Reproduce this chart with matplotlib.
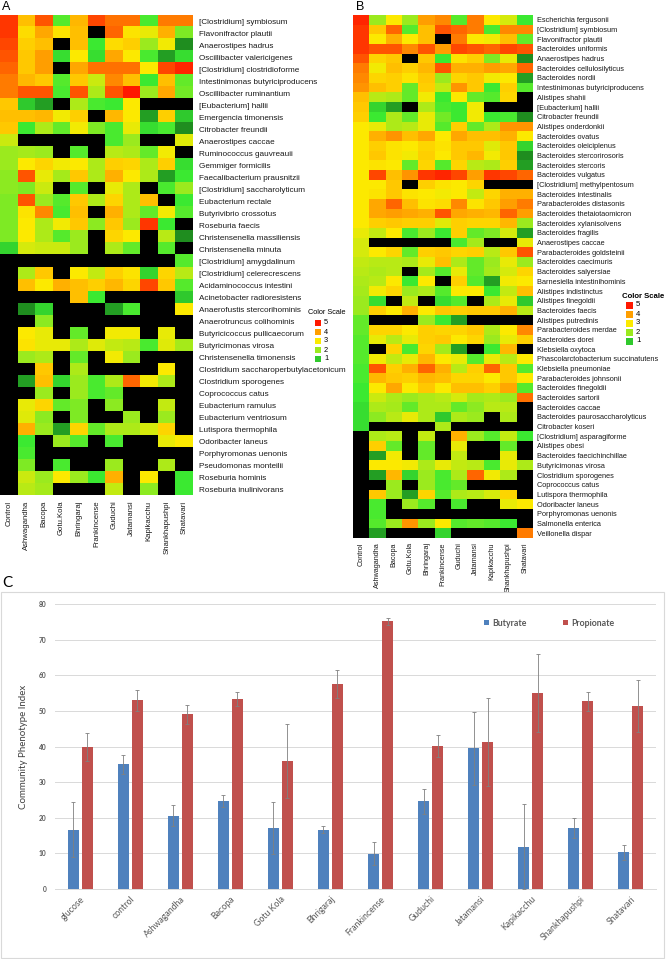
import numpy as np
import matplotlib
matplotlib.use('Agg')
import matplotlib.pyplot as plt
from matplotlib.colors import LinearSegmentedColormap, Normalize
from matplotlib.patches import Rectangle

# ---------------- data ----------------
heat_cols = ['Control', 'Ashwagandha', 'Bacopa', 'Gotu.Kola', 'Bhringaraj', 'Frankincense',
             'Guduchi', 'Jatamansi', 'Kapikacchu', 'Shankhapushpi', 'Shatavari']

rows_A = ['[Clostridium] symbiosum', 'Flavonifractor plautii', 'Anaerostipes hadrus',
          'Oscillibacter valericigenes', '[Clostridium] clostridioforme',
          'Intestinimonas butyriciproducens', 'Oscillibacter ruminantium', '[Eubacterium] hallii',
          'Emergencia timonensis', 'Citrobacter freundii', 'Anaerostipes caccae',
          'Ruminococcus gauvreauii', 'Gemmiger formicilis', 'Faecalibacterium prausnitzii',
          '[Clostridium] saccharolyticum', 'Eubacterium rectale', 'Butyrivibrio crossotus',
          'Roseburia faecis', 'Christensenella massiliensis', 'Christensenella minuta',
          '[Clostridium] amygdalinum', '[Clostridium] celerecrescens', 'Acidaminococcus intestini',
          'Acinetobacter radioresistens', 'Anaerofustis stercorihominis', 'Anaerotruncus colihominis',
          'Butyricicoccus pullicaecorum', 'Butyricimonas virosa', 'Christensenella timonensis',
          'Clostridium saccharoperbutylacetonicum', 'Clostridium sporogenes', 'Coprococcus catus',
          'Eubacterium ramulus', 'Eubacterium ventriosum', 'Lutispora thermophila',
          'Odoribacter laneus', 'Porphyromonas uenonis', 'Pseudomonas monteilii',
          'Roseburia hominis', 'Roseburia inulinivorans']

# 0 = not detected (black)
vals_A = [
    [4.8, 3.6, 4.6, 1.5, 3.7, 4.7, 4.4, 4.4, 1.4, 4.3, 4.3],
    [4.8, 3.2, 3.9, 3.1, 3.6, 0, 4.5, 3.1, 2.8, 3.8, 1.8],
    [4.7, 3.4, 3.6, 0, 3.6, 1.3, 3.2, 3.4, 2.0, 2.9, 0.6],
    [4.6, 3.5, 4.0, 1.2, 3.0, 1.2, 3.9, 3.0, 1.4, 0.7, 1.2],
    [4.5, 3.5, 4.0, 0, 3.9, 4.4, 4.4, 4.4, 3.0, 4.7, 4.9],
    [4.3, 3.7, 3.5, 1.5, 3.5, 2.5, 4.2, 3.6, 1.3, 3.6, 1.6],
    [4.3, 4.6, 4.6, 1.4, 4.6, 2.2, 4.6, 5.0, 2.0, 3.9, 1.7],
    [3.5, 1.0, 0.7, 0, 2.2, 1.4, 1.3, 3.0, 0, 0, 0],
    [3.6, 3.6, 3.7, 2.9, 3.4, 0, 3.7, 3.0, 0.7, 3.4, 1.0],
    [3.5, 1.3, 2.2, 1.6, 2.9, 1.8, 1.4, 2.8, 1.2, 1.4, 0.6],
    [2.5, 0, 0, 0, 0, 0, 1.4, 2.0, 0, 0, 2.7],
    [2.0, 2.1, 2.0, 0, 1.5, 0, 2.3, 2.2, 1.6, 2.9, 0],
    [2.0, 3.0, 3.3, 2.9, 3.0, 2.2, 3.4, 3.3, 2.2, 3.4, 1.2],
    [1.9, 4.6, 2.8, 2.1, 3.5, 2.2, 3.8, 3.0, 2.2, 0.7, 1.3],
    [1.9, 1.8, 2.5, 0, 1.5, 0, 2.8, 2.2, 0, 1.4, 2.0],
    [1.8, 4.6, 2.0, 1.5, 3.5, 2.2, 3.3, 2.2, 3.6, 0, 1.3],
    [1.8, 3.1, 4.2, 1.4, 3.6, 0, 3.8, 2.2, 1.6, 2.9, 1.5],
    [1.8, 3.0, 2.2, 2.9, 3.5, 1.9, 3.5, 2.0, 4.8, 1.3, 0],
    [1.8, 3.0, 2.2, 1.5, 2.0, 0, 3.3, 3.0, 0, 2.3, 0.6],
    [1.1, 2.6, 2.5, 2.5, 2.0, 0, 2.2, 1.6, 0, 1.5, 0],
    [0, 0, 0, 0, 0, 0, 0, 0, 0, 0, 1.5],
    [0, 2.2, 3.5, 0, 3.0, 2.4, 3.4, 3.1, 1.1, 3.3, 2.3],
    [0, 3.6, 3.0, 3.8, 3.6, 3.4, 3.7, 3.3, 4.7, 3.5, 1.5],
    [0, 0, 0, 0, 3.6, 1.3, 0, 0, 0, 0, 1.0],
    [0, 0.6, 1.1, 0, 0, 0, 0.7, 1.4, 0, 0, 3.0],
    [0, 0, 1.9, 0, 0, 0, 0, 0, 0, 0, 0],
    [0, 3.0, 2.8, 0, 1.6, 0, 2.9, 2.9, 0, 2.8, 0],
    [0, 3.1, 2.8, 2.8, 2.2, 2.7, 2.4, 2.3, 1.4, 2.7, 2.1],
    [0, 2.0, 2.2, 0, 1.6, 0, 2.9, 2.0, 0, 0, 0],
    [0, 0, 3.5, 0, 2.2, 0, 0, 0, 0, 3.0, 0],
    [0, 0.7, 3.6, 1.1, 2.0, 1.4, 2.2, 4.5, 2.9, 2.2, 0],
    [0, 0, 2.0, 0, 2.0, 1.4, 1.6, 0, 0, 0, 0],
    [0, 2.8, 3.3, 1.6, 1.8, 0, 1.9, 0, 0, 2.4, 0],
    [0, 2.7, 1.9, 0, 1.8, 0, 0, 2.0, 0, 2.0, 0],
    [0, 3.8, 2.0, 0.7, 3.3, 1.6, 2.2, 2.2, 2.6, 3.3, 0],
    [0, 1.3, 0, 2.0, 1.5, 0, 1.4, 0, 0, 2.8, 3.0],
    [0, 1.4, 0, 0, 0, 0, 0, 0, 0, 0, 0],
    [0, 1.8, 0, 1.4, 0, 0, 2.0, 0, 0, 2.2, 0],
    [0, 2.5, 2.0, 3.0, 2.0, 1.3, 3.8, 0, 3.0, 0, 1.3],
    [0, 2.3, 2.1, 0, 0, 0, 2.4, 0, 1.9, 0, 1.3],
]

rows_B = ['Escherichia fergusonii', '[Clostridium] symbiosum', 'Flavonifractor plautii',
          'Bacteroides uniformis', 'Anaerostipes hadrus', 'Bacteroides cellulosilyticus',
          'Bacteroides nordii', 'Intestinimonas butyriciproducens', 'Alistipes shahii',
          '[Eubacterium] hallii', 'Citrobacter freundii', 'Alistipes onderdonkii',
          'Bacteroides ovatus', 'Bacteroides oleiciplenus', 'Bacteroides stercorirosoris',
          'Bacteroides stercoris', 'Bacteroides vulgatus', '[Clostridium] methylpentosum',
          'Bacteroides intestinalis', 'Parabacteroides distasonis', 'Bacteroides thetaiotaomicron',
          'Bacteroides xylanisolvens', 'Bacteroides fragilis', 'Anaerostipes caccae',
          'Parabacteroides goldsteinii', 'Bacteroides caecimuris', 'Bacteroides salyersiae',
          'Barnesiella intestinihominis', 'Alistipes indistinctus', 'Alistipes finegoldii',
          'Bacteroides faecis', 'Alistipes putredinis', 'Parabacteroides merdae',
          'Bacteroides dorei', 'Klebsiella oxytoca', 'Phascolarctobacterium succinatutens',
          'Klebsiella pneumoniae', 'Parabacteroides johnsonii', 'Bacteroides finegoldii',
          'Bacteroides sartorii', 'Bacteroides caccae', 'Bacteroides paurosaccharolyticus',
          'Citrobacter koseri', '[Clostridium] asparagiforme', 'Alistipes obesi',
          'Bacteroides faecichinchillae', 'Butyricimonas virosa', 'Clostridium sporogenes',
          'Coprococcus catus', 'Lutispora thermophila', 'Odoribacter laneus',
          'Porphyromonas uenonis', 'Salmonella enterica', 'Veillonella dispar']

vals_B = [
    [4.9, 2.0, 3.0, 2.0, 4.0, 4.2, 1.5, 4.3, 3.0, 2.6, 1.3],
    [4.8, 3.5, 4.5, 1.5, 3.6, 4.6, 4.5, 4.3, 1.4, 4.2, 4.2],
    [4.8, 3.0, 3.8, 3.0, 3.6, 0, 4.3, 3.0, 2.9, 3.6, 1.6],
    [4.8, 4.6, 4.6, 4.2, 4.6, 4.0, 4.7, 4.6, 4.5, 4.7, 4.6],
    [4.6, 3.3, 3.5, 0, 3.5, 1.3, 3.1, 3.4, 1.8, 2.8, 0.6],
    [4.3, 2.9, 3.6, 3.4, 3.7, 4.6, 3.8, 3.8, 4.0, 3.9, 4.5],
    [4.2, 3.3, 3.4, 3.1, 3.5, 2.0, 3.3, 3.5, 2.9, 3.0, 0.7],
    [4.1, 3.6, 3.4, 1.6, 3.4, 2.4, 4.1, 3.5, 1.3, 3.4, 1.5],
    [3.6, 2.3, 2.2, 1.6, 2.9, 1.3, 3.0, 1.6, 1.5, 3.3, 0],
    [3.5, 1.1, 0.7, 0, 2.2, 1.4, 1.3, 2.9, 0, 0, 0],
    [3.4, 1.3, 2.2, 1.6, 2.8, 1.7, 1.3, 2.9, 1.3, 1.4, 0.6],
    [3.0, 2.8, 2.2, 2.3, 2.8, 1.5, 3.4, 1.6, 2.2, 4.1, 4.1],
    [3.0, 3.8, 4.1, 3.6, 3.9, 3.0, 3.9, 3.6, 3.6, 3.8, 3.0],
    [3.0, 3.4, 3.1, 3.0, 3.3, 3.1, 3.5, 3.5, 2.7, 3.5, 1.1],
    [3.0, 3.5, 3.1, 2.9, 3.4, 3.0, 3.5, 3.7, 2.9, 3.5, 0.6],
    [3.0, 3.1, 3.0, 1.6, 3.3, 1.5, 3.3, 2.3, 2.2, 3.4, 0.7],
    [3.0, 4.7, 3.6, 4.1, 4.8, 4.9, 4.7, 4.0, 4.8, 4.7, 4.5],
    [3.0, 3.0, 3.5, 0, 3.4, 3.1, 3.0, 3.3, 0, 0, 0],
    [3.0, 3.1, 3.5, 3.1, 3.0, 2.9, 3.0, 2.4, 3.3, 3.8, 3.8],
    [3.0, 3.9, 4.5, 3.6, 3.1, 3.2, 4.2, 3.1, 3.5, 4.0, 4.3],
    [3.0, 3.9, 4.0, 3.9, 3.8, 4.6, 3.9, 3.8, 3.7, 4.5, 4.0],
    [3.0, 3.4, 3.5, 3.4, 3.4, 2.7, 3.4, 3.3, 3.3, 3.7, 2.0],
    [2.8, 2.4, 3.0, 1.4, 2.0, 1.3, 3.4, 1.6, 1.8, 2.6, 0.7],
    [2.6, 0, 0, 0, 0, 0, 1.4, 2.1, 0, 0, 2.8],
    [2.6, 3.0, 3.3, 1.6, 3.4, 3.5, 3.3, 3.4, 2.3, 3.5, 4.6],
    [2.4, 2.3, 2.3, 2.2, 2.8, 3.6, 2.2, 1.6, 2.0, 2.8, 2.0],
    [2.3, 2.2, 2.3, 0, 2.1, 1.5, 2.8, 1.6, 2.1, 2.6, 3.3],
    [2.2, 2.3, 3.0, 1.3, 3.0, 0, 3.4, 1.5, 0.7, 2.9, 3.0],
    [2.1, 2.9, 3.3, 2.0, 2.2, 1.5, 3.0, 3.0, 1.3, 2.4, 3.6],
    [2.0, 1.2, 0, 2.4, 0, 1.2, 1.5, 0, 2.2, 2.8, 1.0],
    [2.0, 3.4, 3.0, 3.8, 3.0, 3.5, 3.4, 3.5, 3.5, 3.8, 2.3],
    [1.6, 0, 0, 0, 2.0, 1.3, 0.7, 0, 0, 0, 0],
    [1.6, 3.3, 3.3, 3.0, 3.4, 3.3, 3.3, 3.5, 2.2, 3.0, 4.2],
    [1.5, 2.8, 2.3, 2.8, 3.4, 3.5, 3.0, 3.3, 2.0, 2.8, 3.4],
    [1.5, 0, 3.3, 1.4, 3.3, 2.1, 0.7, 0, 1.3, 3.7, 0],
    [1.5, 2.9, 2.4, 2.8, 3.7, 3.0, 2.8, 1.5, 2.8, 2.3, 3.0],
    [1.4, 4.6, 3.4, 3.8, 4.5, 3.8, 2.3, 3.4, 4.5, 3.5, 1.5],
    [1.4, 3.7, 3.5, 3.4, 3.7, 3.6, 3.3, 3.3, 3.0, 3.5, 3.0],
    [1.3, 3.0, 3.9, 3.0, 3.5, 3.0, 3.6, 3.6, 3.4, 3.9, 1.5],
    [1.3, 2.5, 2.2, 2.0, 2.2, 2.3, 2.6, 2.1, 2.2, 2.0, 4.4],
    [1.2, 2.2, 2.1, 1.6, 2.2, 2.2, 1.6, 1.9, 2.3, 2.3, 0],
    [1.2, 1.9, 2.3, 2.8, 2.2, 1.0, 2.2, 2.0, 0, 2.2, 0],
    [1.2, 0, 0, 0, 0, 2.2, 0, 0, 0, 0, 0],
    [0, 2.2, 2.3, 0, 2.4, 0, 3.8, 2.0, 1.5, 2.4, 1.3],
    [0, 3.4, 1.6, 0, 1.6, 0, 2.8, 0, 0, 1.6, 0],
    [0, 0.7, 2.9, 0, 1.6, 0, 2.4, 0, 0, 2.8, 0],
    [0, 3.0, 3.0, 2.9, 2.2, 2.8, 2.4, 2.3, 1.4, 2.8, 2.2],
    [0, 0.7, 3.7, 1.1, 2.0, 1.4, 2.2, 4.5, 2.9, 2.2, 0],
    [0, 0, 2.0, 0, 2.0, 1.4, 1.6, 0, 0, 0, 0],
    [0, 3.5, 2.0, 0.7, 3.3, 1.5, 2.2, 2.3, 2.6, 3.3, 0],
    [0, 1.4, 0, 2.0, 1.5, 0, 1.4, 0, 0, 2.8, 3.0],
    [0, 1.4, 0, 0, 0, 0, 0, 0, 0, 0, 0],
    [0, 1.5, 2.0, 4.1, 2.0, 3.0, 1.5, 1.6, 1.5, 1.3, 0],
    [0, 0.7, 0, 0, 0, 1.1, 0, 0, 0, 0, 4.3],
]

scale_levels = [5, 4, 3, 2, 1]

bar_cats = ['glucose', 'control', 'Ashwagandha', 'Bacopa', 'Gotu Kola', 'Bhrigaraj',
            'Frankincense', 'Guduchi', 'Jatamansi', 'Kapikacchu', 'Shankhapushpi', 'Shatavari']
butyrate = [16.7, 35.0, 20.6, 24.7, 17.2, 16.7, 9.9, 24.6, 39.5, 11.9, 17.1, 10.3]
butyrate_err = [7.8, 2.7, 3.0, 1.6, 7.3, 1.0, 3.2, 3.6, 10.2, 11.9, 2.8, 2.1]
propionate = [39.8, 53.0, 49.0, 53.3, 36.0, 57.5, 75.2, 40.1, 41.2, 55.1, 52.7, 51.4]
propionate_err = [4.0, 3.0, 2.7, 2.0, 10.4, 4.0, 1.0, 3.0, 12.4, 10.9, 2.6, 7.3]

# ---------------- figure ----------------
W, H = 668, 959
fig = plt.figure(figsize=(W / 100, H / 100), dpi=100)
HEAT_FONT = ['Liberation Sans', 'DejaVu Sans']
BAR_FONT = ['Lato', 'DejaVu Sans']


def ax_px(x0, y0, x1, y1):
    return fig.add_axes([x0 / W, 1 - y1 / H, (x1 - x0) / W, (y1 - y0) / H])


vmin, vmax = 0.5, 5.0
stops = [(0.5, '#1c801c'), (0.9, '#2cbf2c'), (1.3, '#3cea32'), (2.0, '#9bea1e'),
         (3.0, '#fcea00'), (3.5, '#ffc800'), (4.0, '#ffa000'), (4.5, '#ff6600'), (5.0, '#ff1800')]
cmap = LinearSegmentedColormap.from_list('cs', [((v - vmin) / (vmax - vmin), c) for v, c in stops])
cmap.set_bad('black')
norm = Normalize(vmin, vmax)


def heatmap(ax, vals, rows, fs_y, fs_x, pad):
    M = np.array(vals, dtype=float)
    M[M == 0] = np.nan
    ax.imshow(M, cmap=cmap, norm=norm, aspect='auto', interpolation='nearest')
    ax.set_yticks(range(len(rows)))
    ax.set_yticklabels(rows, fontsize=fs_y, family=HEAT_FONT, color='#1a1a1a')
    ax.yaxis.tick_right()
    ax.set_xticks(range(len(heat_cols)))
    ax.set_xticklabels(heat_cols, rotation=90, fontsize=fs_x, family=HEAT_FONT, color='#1a1a1a')
    ax.tick_params(length=0, pad=pad)
    for s in ax.spines.values():
        s.set_visible(False)


axA = ax_px(0, 15, 193, 495)
heatmap(axA, vals_A, rows_A, 5.9, 5.6, 4)
axB = ax_px(353, 15, 533, 538)
heatmap(axB, vals_B, rows_B, 5.35, 5.2, 3)

fig.text(2 / W, 1 - 7 / H, 'A', fontsize=9, family=HEAT_FONT, va='center', ha='left')
fig.text(356 / W, 1 - 7 / H, 'B', fontsize=9, family=HEAT_FONT, va='center', ha='left')


def color_scale(x_text, y_text, x_sw, y0, dy, sz, bold, fs):
    fig.text(x_text / W, 1 - y_text / H, 'Color Scale', fontsize=fs, family=HEAT_FONT,
             va='center', ha='left', fontweight='bold' if bold else 'normal')
    for i, v in enumerate(scale_levels):
        yc = y0 + i * dy
        fig.add_artist(Rectangle((x_sw / W, 1 - (yc + sz / 2) / H), sz / W, sz / H,
                                 transform=fig.transFigure, color=cmap(norm(v)), lw=0))
        fig.text((x_sw + sz + 3) / W, 1 - yc / H, str(v), fontsize=fs, family=HEAT_FONT,
                 va='center', ha='left')


color_scale(308, 313, 315, 323, 9, 6, False, 5.3)
color_scale(622, 296, 626, 305, 9, 7, True, 5.6)

# ---------------- panel C ----------------
fig.text(2 / W, 1 - 583 / H, 'C', fontsize=11, family=BAR_FONT, va='center', ha='left')
fig.add_artist(Rectangle((1 / W, 1 - 958 / H), 663 / W, 366 / H, transform=fig.transFigure,
                         fill=False, edgecolor='#d9d9d9', lw=0.8))

axC = ax_px(55, 604, 656, 889)
x = np.arange(len(bar_cats))
ekw = dict(ecolor='#808080', elinewidth=0.6, capsize=1.3, capthick=0.6)
axC.bar(x - 0.14, butyrate, 0.22, yerr=butyrate_err, color='#4f81bd', error_kw=ekw,
        label='Butyrate', zorder=3)
axC.bar(x + 0.14, propionate, 0.22, yerr=propionate_err, color='#c0504d', error_kw=ekw,
        label='Propionate', zorder=3)
axC.set_xlim(-0.5, len(bar_cats) - 0.5)
axC.set_ylim(0, 80)
axC.set_yticks(np.arange(0, 81, 10))
axC.set_yticklabels([str(v) for v in range(0, 81, 10)], fontsize=4.8, color='#595959',
                    family=BAR_FONT, fontweight='bold')
axC.grid(axis='y', color='#d9d9d9', lw=0.7, zorder=0)
axC.set_xticks(x)
axC.set_xticklabels(bar_cats, rotation=45, ha='right', rotation_mode='anchor', fontsize=6.3,
                    color='#595959', family=BAR_FONT)
axC.tick_params(length=0, axis='both')
axC.tick_params(axis='y', pad=6)
axC.tick_params(axis='x', pad=4)
for s in ['top', 'right', 'left']:
    axC.spines[s].set_visible(False)
axC.spines['bottom'].set_color('#d9d9d9')
axC.spines['bottom'].set_linewidth(0.7)
axC.set_ylabel('Community Phenotype Index', fontsize=7, color='#404040', family=BAR_FONT)
axC.yaxis.set_label_coords((28 - 55) / 601, 0.5)
leg = axC.legend(loc='center left', bbox_to_anchor=((484 - 55) / 601, (889 - 623) / 285),
                 ncol=2, frameon=False, handlelength=0.55, handleheight=0.55,
                 handletextpad=0.35, columnspacing=4.2, borderpad=0, borderaxespad=0,
                 prop={'family': BAR_FONT, 'size': 6.3, 'weight': 'bold'})
for t in leg.get_texts():
    t.set_color('#595959')

fig.savefig('out.png', dpi=100)
